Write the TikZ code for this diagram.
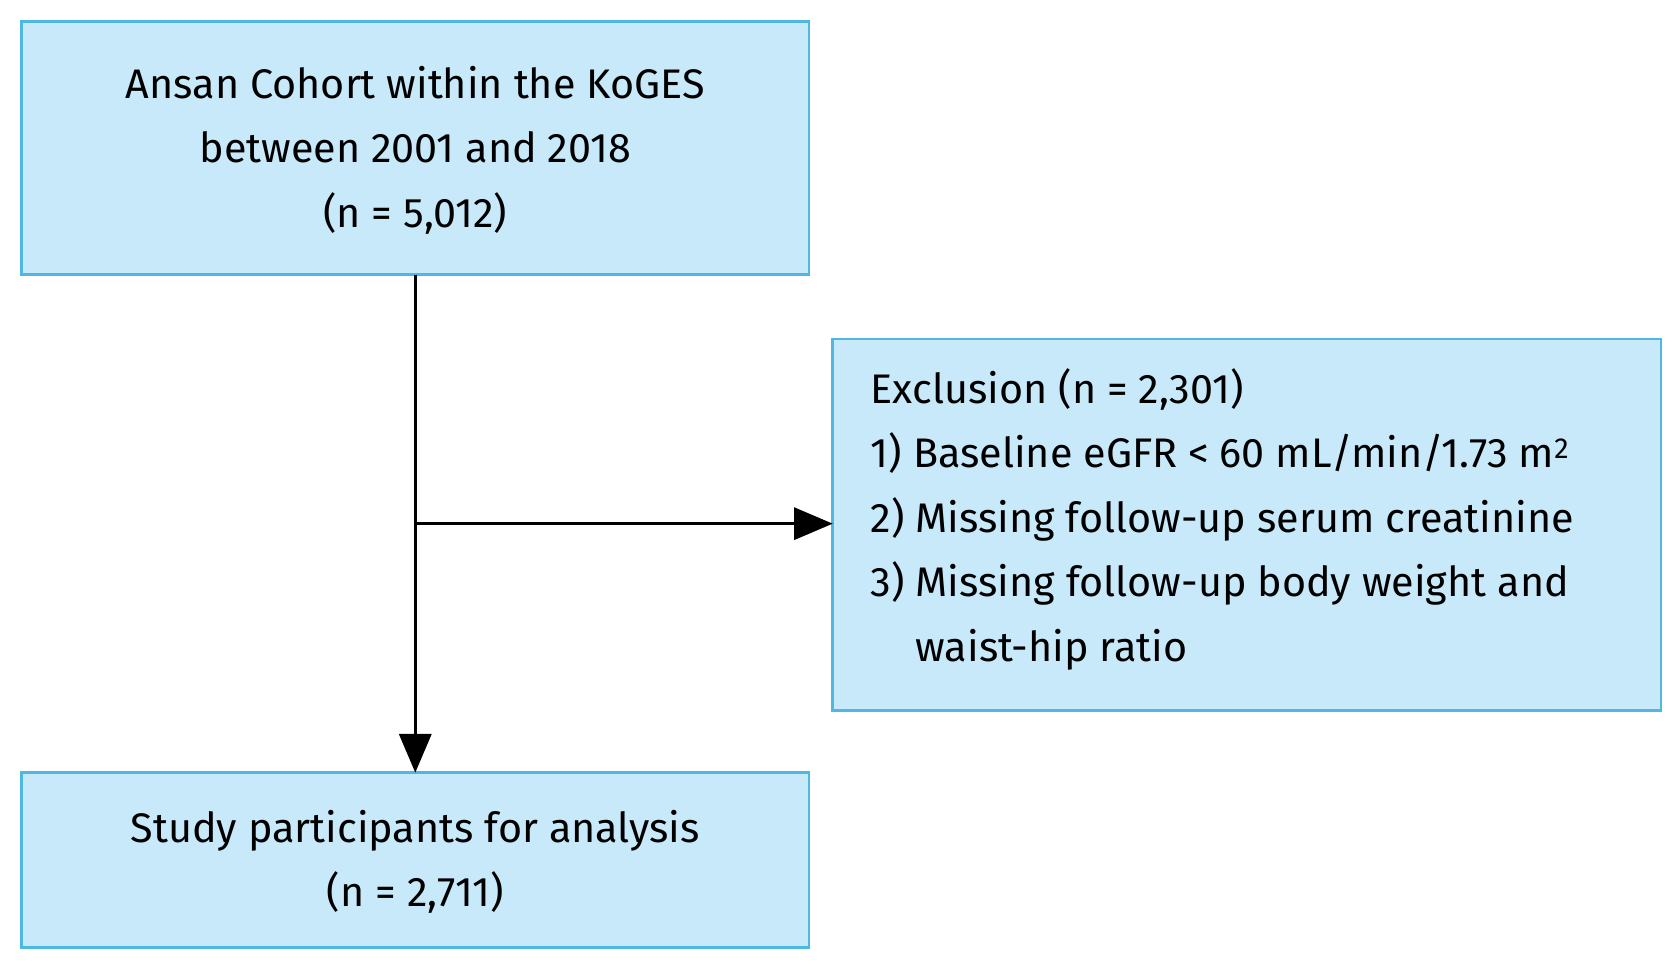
\documentclass[tikz,border=0pt]{standalone}
\usepackage{fontspec}
\setmainfont{Fira Sans}
\usetikzlibrary{arrows.meta}
\definecolor{boxfill}{HTML}{C8E9FA}
\definecolor{boxline}{HTML}{4DB8E2}
\begin{document}
\begin{tikzpicture}[x=1pt,y=-1pt,
  box/.style={draw=boxline,fill=boxfill,line width=2.5pt},
  txt/.style={font=\fontsize{38.5}{60}\selectfont,align=center},
  arr/.style={line width=2.5pt,-{Triangle[length=36pt,width=30pt]}}]
\useasboundingbox (0,0) rectangle (1560,899);
\draw[box] (20,20) rectangle (754,256);
\node[txt] (top) at (387,140) {Ansan Cohort within the KoGES\\between 2001 and 2018\\(n = 5,012)};
\draw[box] (776,316) rectangle (1548,662);
\node[txt,align=left,anchor=north west] (ex) at (808,340) {Exclusion (n = 2,301)\\1) Baseline eGFR < 60 mL/min/1.73 m\textsuperscript{2}\\2) Missing follow-up serum creatinine\\3) Missing follow-up body weight and\\\phantom{3) }waist-hip ratio};
\draw[box] (20,720) rectangle (754,883);
\node[txt] (bot) at (387,803) {Study participants for analysis\\(n = 2,711)};
\coordinate (a) at (387,256);
\coordinate (b) at (387,720);
\coordinate (m) at (387,488);
\coordinate (r) at (776,488);
\draw[arr] (a) -- (b);
\draw[arr] (m) -- (r);
\end{tikzpicture}
\end{document}
